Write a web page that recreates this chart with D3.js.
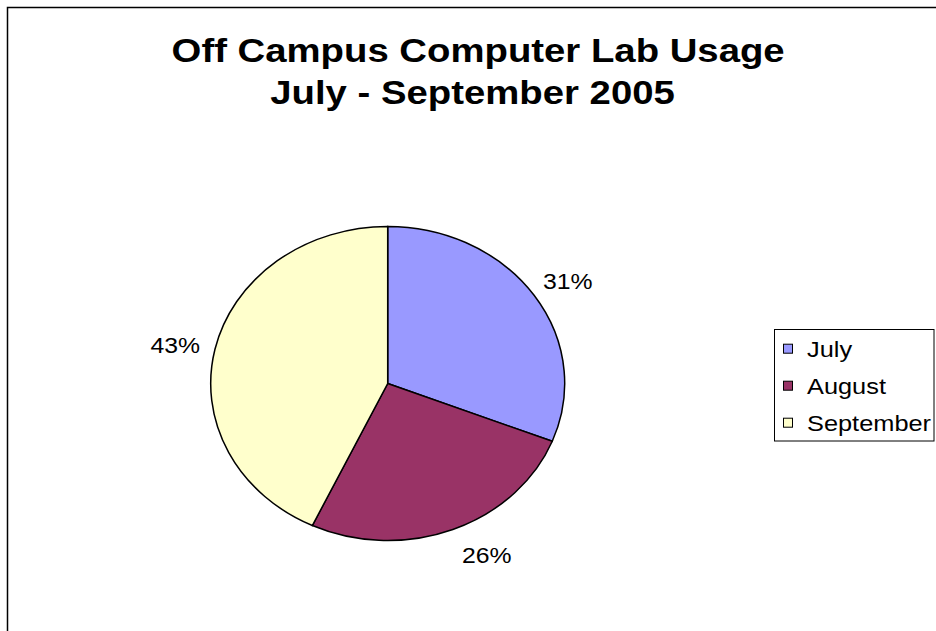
<!DOCTYPE html>
<html><head><meta charset="utf-8">
<script src="https://cdn.jsdelivr.net/npm/d3@7"></script>
<style>body{margin:0;background:#fff;} svg{display:block;font-family:"Liberation Sans",Arial,sans-serif;}</style>
</head><body>
<svg id="c" width="936" height="631"></svg>
<script>
const categories = ["July", "August", "September"];
const values = [31, 26, 43];
const colors = ["#9999FF", "#993366", "#FFFFCC"];
const titleLines = ["Off Campus Computer Lab Usage", "July - September 2005"];

// layout: the whole chart is stretched horizontally
const sx = 1.127;
const labelNudgeX = [0, 19, 0];
const labelNudgeY = [-1, 4, 1];

const svg = d3.select("#c");
svg.append("rect").attr("x", 7.5).attr("y", 7.5).attr("width", 1000).attr("height", 700)
  .attr("fill", "#fff").attr("stroke", "#000").attr("stroke-width", 1.5);

// title
svg.append("g").attr("transform", `translate(477,0) scale(${sx},1)`)
  .selectAll("text").data(titleLines).join("text")
  .attr("x", (d, i) => i ? -4 : 1).attr("y", (d, i) => 62 + i * 42)
  .attr("text-anchor", "middle").attr("font-weight", "bold").attr("font-size", 34)
  .text(d => d);

const cx = 387.7, cy = 383.5, rx = 177, ry = 157;
const pie = d3.pie().sort(null).value(d => d)(values);
const arc = d3.arc().innerRadius(0).outerRadius(ry);
const g = svg.append("g").attr("transform", `translate(${cx},${cy}) scale(${rx / ry},1)`);
g.selectAll("path").data(pie).join("path")
  .attr("d", arc).attr("fill", (d, i) => colors[i])
  .attr("stroke", "#000").attr("stroke-width", 1.5).attr("vector-effect", "non-scaling-stroke");

const total = d3.sum(values);
svg.append("g").selectAll("g").data(pie).join("g")
  .attr("transform", (d, i) => {
    const a = (d.startAngle + d.endAngle) / 2;
    const x = cx + Math.sin(a) * 1.23 * rx + labelNudgeX[i];
    const y = cy - Math.cos(a) * 1.15 * ry + labelNudgeY[i];
    return `translate(${x},${y}) scale(${sx},1)`;
  })
  .append("text")
  .attr("text-anchor", "middle").attr("dominant-baseline", "central")
  .attr("font-size", 22)
  .text(d => Math.round(d.data / total * 100) + "%");

// legend
const lg = svg.append("g");
lg.append("rect").attr("x", 774.5).attr("y", 329.5).attr("width", 159.5).attr("height", 111.5)
  .attr("fill", "#fff").attr("stroke", "#000").attr("stroke-width", 1);
const rows = lg.selectAll("g.r").data(categories).join("g").attr("class", "r")
  .attr("transform", (d, i) => `translate(0,${348.7 + i * 37})`);
rows.append("rect").attr("x", 783.5).attr("y", -4.5).attr("width", 9).attr("height", 9)
  .attr("fill", (d, i) => colors[i]).attr("stroke", "#000").attr("stroke-width", 1);
rows.append("g").attr("transform", `translate(807,0) scale(${sx},1)`)
  .append("text").attr("x", 0).attr("y", 0).attr("dominant-baseline", "central")
  .attr("font-size", 22.5).text(d => d);
</script>
</body></html>
